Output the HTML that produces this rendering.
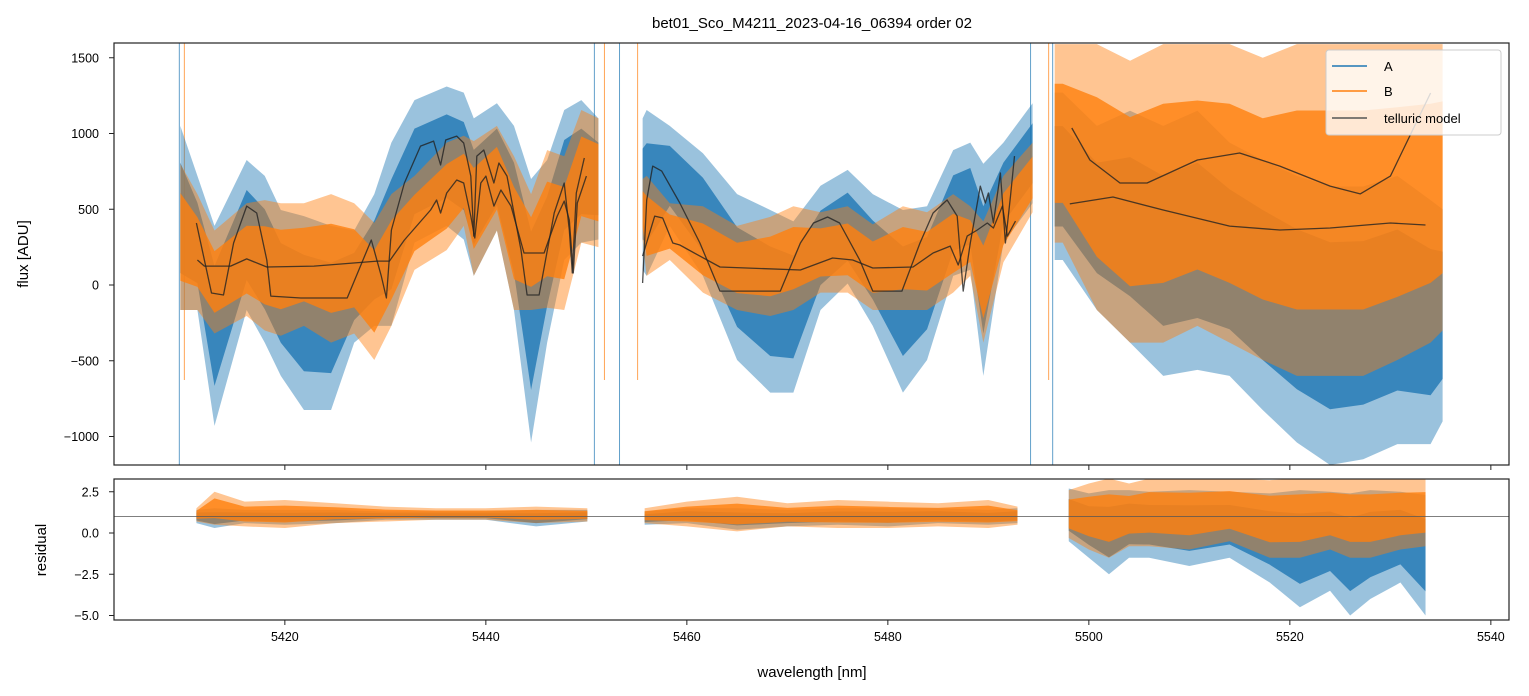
<!DOCTYPE html>
<html><head><meta charset="utf-8"><style>
body{margin:0;background:#fff;}
svg{display:block;font-family:"Liberation Sans","DejaVu Sans",sans-serif;}
</style></head><body>
<svg id="chart" width="1529" height="696" viewBox="0 0 1529 696" xmlns="http://www.w3.org/2000/svg">
<defs>
<clipPath id="clipTop"><rect x="114" y="43" width="1395" height="422"/></clipPath>
<clipPath id="clipBot"><rect x="114" y="479" width="1395" height="141"/></clipPath>
</defs>
<text x="812" y="28" text-anchor="middle" font-size="15" fill="#000">bet01_Sco_M4211_2023-04-16_06394  order 02</text>
<g id="topData" clip-path="url(#clipTop)"></g>
<g id="botData" clip-path="url(#clipBot)"></g>
<g id="axes"></g>
</svg>
<script>
const segA1_wl=[5409.6,5411.3,5413,5416.2,5418,5419.6,5421.9,5424.6,5426.9,5428.9,5430.6,5432.9,5436.1,5437.8,5438.8,5441.1,5442.8,5444.5,5446.1,5447.8,5449.5,5451.2];
const segA1_hi=[1050,720,390,825,720,495,455,390,360,600,940,1220,1310,1270,1100,1200,1050,700,825,1155,1220,1100];
const segA1_lo=[-165,-165,-930,-165,-380,-600,-825,-825,-380,-270,-270,280,390,300,60,360,-165,-1040,-380,165,280,300];
const segB1_hi=[800,600,360,540,560,540,540,600,540,410,600,720,940,985,950,1050,850,600,890,850,1155,1100];
const segB1_lo=[-165,-165,-320,-205,-300,-335,-270,-380,-320,-495,-270,100,230,390,60,360,-165,-165,-150,-165,280,250];
const segA2_wl=[5455.6,5456,5458.3,5461.6,5465,5468.3,5470.6,5473.3,5476,5478.5,5481.5,5483.9,5486.5,5488.2,5489.5,5491.5,5494.4];
const segA2_hi=[1100,1155,1050,870,600,495,420,655,760,600,495,520,890,940,800,940,1200];
const segA2_lo=[100,60,390,60,-495,-710,-710,-165,10,-270,-710,-495,60,100,-600,280,540];
const segB2_hi=[700,720,540,520,390,450,520,480,520,400,520,480,600,520,420,720,940];
const segB2_lo=[300,60,165,-50,-165,-205,-165,-50,-50,-165,-165,-165,-50,60,-380,150,480];
const segA3_wl=[5496.6,5497.4,5500.8,5504.1,5507.4,5510.8,5514,5517.3,5520.7,5524,5527.3,5530.7,5534,5535.2];
const segA3_hi=[1270,1270,1050,1150,1050,1150,940,825,720,650,650,720,560,500];
const segA3_lo=[165,165,-165,-380,-600,-560,-600,-825,-1040,-1188,-1150,-1050,-1050,-900];
const segB3_hi=[1590,1590,1590,1480,1590,1590,1590,1500,1590,1590,1590,1590,1590,1590];
const segB3_lo=[280,280,-165,-380,-380,-270,-380,-495,-600,-600,-600,-495,-380,-300];
const spikesA=[5409.5,5450.8,5453.3,5494.2,5496.4];
const spikesB=[5410.0,5451.8,5455.1,5496.0];
const tA1_wl=[5411.2,5412.7,5413.9,5414.9,5416.2,5417.2,5418.2,5418.6,5421.6,5426.2,5428.6,5429.6,5430.1,5430.6,5431.9,5433.5,5434.8,5435.5,5436.0,5437.1,5437.8,5438.5,5438.8,5439.1,5439.8,5440.8,5441.3,5442.1,5443.5,5444.1,5445.3,5446.8,5447.8,5448.3,5448.6,5449.0,5449.8];
const tA1_v=[409,-53,-66,277,521,475,165,-73,-86,-86,297,59,-86,363,673,917,950,792,957,983,937,719,323,851,891,673,805,719,231,-66,-66,475,673,363,79,607,838];
const tB1_wl=[5411.3,5412.0,5414.6,5416.2,5418.2,5422.9,5429.2,5430.4,5431.9,5434.5,5435.1,5435.5,5436.1,5437.1,5437.8,5438.5,5438.9,5439.5,5440.0,5440.8,5441.5,5442.5,5443.8,5445.8,5447.1,5447.8,5448.3,5448.7,5449.1,5450.0];
const tB1_v=[165,125,125,172,119,125,158,158,297,495,561,475,607,693,673,455,310,673,719,521,627,521,211,211,455,554,429,79,541,719];
const tA2_wl=[5455.6,5456.0,5456.6,5457.5,5459.3,5461.3,5463.3,5469.3,5471.3,5472.6,5474.0,5475.2,5477.2,5478.5,5481.4,5483.2,5484.5,5485.9,5486.9,5487.5,5488.2,5489.2,5489.7,5490.0,5490.5,5491.2,5491.7,5492.2,5492.6];
const tA2_v=[13,561,785,752,541,277,-40,-40,277,409,449,409,165,-40,-40,277,475,561,455,-40,277,653,541,607,409,739,277,587,851];
const tB2_wl=[5455.6,5456.8,5457.6,5458.6,5459.3,5461.3,5463.3,5471.3,5474.5,5476.5,5478.5,5482.5,5484.5,5486.2,5487.0,5487.9,5488.9,5489.9,5490.5,5491.4,5491.9,5492.7];
const tB2_v=[191,455,442,277,264,191,119,99,178,165,112,119,211,257,132,323,363,409,376,521,323,422];
const tA3_wl=[5498.3,5500.1,5503.1,5505.8,5510.8,5515.0,5519.0,5524.0,5527.0,5530.0,5532.7,5534.0];
const tA3_v=[1036,825,673,673,825,871,785,653,601,719,1089,1267];
const tB3_wl=[5498.1,5502.4,5507.4,5514.0,5519.0,5524.0,5530.0,5533.5];
const tB3_v=[535,581,495,389,363,376,409,396];
const r1_wl=[5411.2,5413,5416,5420,5425,5430,5435,5440,5445,5450.1];
const rA1_hi=[1.4,1.5,1.4,1.4,1.4,1.3,1.3,1.3,1.4,1.4];
const rA1_lo=[0.6,0.3,0.6,0.5,0.6,0.8,0.8,0.8,0.4,0.7];
const rB1_hi=[1.5,2.5,1.9,2.0,1.8,1.6,1.5,1.5,1.6,1.5];
const rB1_lo=[0.7,0.5,0.4,0.3,0.6,0.7,0.8,0.8,0.6,0.7];
const r2_wl=[5455.8,5460,5465,5470,5475,5480,5485,5490,5492.9];
const rA2_hi=[1.3,1.5,1.5,1.4,1.5,1.5,1.5,1.4,1.5];
const rA2_lo=[0.5,0.6,0.2,0.4,0.5,0.4,0.6,0.5,0.6];
const rB2_hi=[1.5,1.9,2.2,1.8,2.0,1.9,1.8,2.0,1.6];
const rB2_lo=[0.6,0.4,0.1,0.4,0.3,0.3,0.4,0.3,0.5];
const r3_wl=[5498,5500,5502,5504,5506,5510,5514,5518,5521,5524,5526,5528,5531,5533.5];
const rA3_hi=[2.7,2.4,2.6,2.6,2.5,2.6,2.5,2.4,2.6,2.5,2.4,2.6,2.5,2.3];
const rA3_lo=[-0.5,-1.5,-2.5,-1.5,-1.5,-2.0,-1.5,-3.0,-4.5,-3.5,-5.0,-4.0,-3.0,-5.0];
const rB3_hi=[2.6,3.0,3.3,3.0,3.3,3.3,3.3,3.2,3.3,3.3,3.3,3.3,3.3,3.3];
const rB3_lo=[-0.3,-1.0,-1.5,-0.8,-0.8,-1.0,-0.5,-1.5,-1.5,-1.0,-1.5,-1.5,-1.0,-0.8];
const xTicks=[5420,5440,5460,5480,5500,5520,5540];
const yTicksTop=[-1000,-500,0,500,1000,1500];
const yTicksBot=[-5.0,-2.5,0.0,2.5];
const yTickBotLabels=["\u22125.0","\u22122.5","0.0","2.5"];

const X=w=>114+(w-5403.0)*10.05;
const YT=v=>285-v*0.1515;
const YB=v=>533-v*16.5;
const NS="http://www.w3.org/2000/svg";
function mk(tag,attrs,parent){const e=document.createElementNS(NS,tag);for(const k in attrs)e.setAttribute(k,attrs[k]);parent.appendChild(e);return e;}
const topG=document.getElementById('topData'), botG=document.getElementById('botData'), axesG=document.getElementById('axes');

function band(wl,hi,lo,Y,color,op,parent,name,shrink){
  let pts=[];
  for(let i=0;i<wl.length;i++){const m=(hi[i]+lo[i])/2;pts.push(X(wl[i])+','+Y(m+(hi[i]-m)*shrink));}
  for(let i=wl.length-1;i>=0;i--){const m=(hi[i]+lo[i])/2;pts.push(X(wl[i])+','+Y(m+(lo[i]-m)*shrink));}
  const p=mk('polygon',{points:pts.join(' '),fill:color,'fill-opacity':op},parent);
  
  
}
function series(wl,hi,lo,Y,color,parent,name){
  band(wl,hi,lo,Y,color,0.45,parent,name+'-outer',1);
  band(wl,hi,lo,Y,color,0.8,parent,name+'-core',0.6);
}
function line(wl,v,Y,parent,name,color,w,op){
  const d=wl.map((q,i)=>(i?'L':'M')+X(q).toFixed(1)+','+Y(v[i]).toFixed(1)).join('');
  const p=mk('path',{d:d,fill:'none',stroke:color,'stroke-width':w,'stroke-opacity':op,'stroke-linejoin':'round'},parent);
  
  
}
const BLUE='#1f77b4', ORANGE='#ff7f0e';
spikesA.forEach(s=>{const l=mk('line',{x1:X(s),x2:X(s),y1:43,y2:465,stroke:BLUE,'stroke-width':1,'stroke-opacity':0.7},topG);
  
  });
spikesB.forEach(s=>{const l=mk('line',{x1:X(s),x2:X(s),y1:43,y2:380,stroke:ORANGE,'stroke-width':1,'stroke-opacity':0.7},topG);
  
  });
series(segA1_wl,segA1_hi,segA1_lo,YT,BLUE,topG,'flux-a-seg1');
series(segA2_wl,segA2_hi,segA2_lo,YT,BLUE,topG,'flux-a-seg2');
series(segA3_wl,segA3_hi,segA3_lo,YT,BLUE,topG,'flux-a-seg3');
series(segA1_wl,segB1_hi,segB1_lo,YT,ORANGE,topG,'flux-b-seg1');
series(segA2_wl,segB2_hi,segB2_lo,YT,ORANGE,topG,'flux-b-seg2');
series(segA3_wl,segB3_hi,segB3_lo,YT,ORANGE,topG,'flux-b-seg3');
[[tA1_wl,tA1_v],[tB1_wl,tB1_v],[tA2_wl,tA2_v],[tB2_wl,tB2_v],[tA3_wl,tA3_v],[tB3_wl,tB3_v]].forEach(a=>line(a[0],a[1],YT,topG,'telluric-model','#222',1.3,0.8));
series(r1_wl,rA1_hi,rA1_lo,YB,BLUE,botG,'resid-a-seg1');
series(r2_wl,rA2_hi,rA2_lo,YB,BLUE,botG,'resid-a-seg2');
series(r3_wl,rA3_hi,rA3_lo,YB,BLUE,botG,'resid-a-seg3');
series(r1_wl,rB1_hi,rB1_lo,YB,ORANGE,botG,'resid-b-seg1');
series(r2_wl,rB2_hi,rB2_lo,YB,ORANGE,botG,'resid-b-seg2');
series(r3_wl,rB3_hi,rB3_lo,YB,ORANGE,botG,'resid-b-seg3');
const ref=mk('line',{x1:114,x2:1509,y1:YB(1),y2:YB(1),stroke:'#555','stroke-width':0.8},botG);



[[43,422,'flux-axes-frame'],[479,141,'residual-axes-frame']].forEach(f=>{const r=mk('rect',{x:114,y:f[0],width:1395,height:f[1],fill:'none',stroke:'#222','stroke-width':1.2},axesG);
  
  });
xTicks.forEach(t=>{
  const x=X(t);
  const a=mk('line',{x1:x,x2:x,y1:465,y2:470,stroke:'#222'},axesG);
  
  
  const b=mk('line',{x1:x,x2:x,y1:620,y2:625,stroke:'#222'},axesG);
  
  
  const tx=mk('text',{x:x,y:641,'text-anchor':'middle','font-size':12.5},axesG);tx.textContent=t;
  
  
});
yTicksTop.forEach(t=>{
  const y=YT(t);
  const a=mk('line',{x1:109,x2:114,y1:y,y2:y,stroke:'#222'},axesG);
  
  
  const tx=mk('text',{x:99,y:y+4.5,'text-anchor':'end','font-size':12.5},axesG);tx.textContent=String(t).replace('-','\u2212');
  
  
});
yTicksBot.forEach((t,i)=>{
  const y=YB(t);
  const a=mk('line',{x1:109,x2:114,y1:y,y2:y,stroke:'#222'},axesG);
  
  
  const tx=mk('text',{x:99,y:y+4.5,'text-anchor':'end','font-size':12.5},axesG);tx.textContent=yTickBotLabels[i];
  
  
});
</script>
<script>
const ax=document.getElementById('axes');
function T(x,y,s,txt,name,rot,anchor){const e=document.createElementNS("http://www.w3.org/2000/svg",'text');e.setAttribute('x',x);e.setAttribute('y',y);e.setAttribute('font-size',s);e.setAttribute('text-anchor',anchor||'middle');if(rot)e.setAttribute('transform','rotate(-90 '+x+' '+y+')');e.textContent=txt;ax.appendChild(e);
  
  return e;}
T(812,677,15,'wavelength [nm]','x-axis-title');
T(28,254,15,'flux [ADU]','y-axis-title',true);
T(46,550,15,'residual','residual-y-axis-title',true);
const NS2="http://www.w3.org/2000/svg";
const lg=document.createElementNS(NS2,'g');ax.appendChild(lg);


const box=document.createElementNS(NS2,'rect');
[['x',1326],['y',50],['width',175],['height',85],['rx',3],['fill','#fff'],['fill-opacity',0.8],['stroke','#ccc']].forEach(a=>box.setAttribute(a[0],a[1]));lg.appendChild(box);


[['A','#1f77b4',66,'legend-entry-a'],['B','#ff7f0e',91,'legend-entry-b'],['telluric model','#555',118,'legend-entry-telluric']].forEach(e=>{
  const l=document.createElementNS(NS2,'line');[['x1',1332],['x2',1367],['y1',e[2]],['y2',e[2]],['stroke',e[1]],['stroke-width',1.6]].forEach(a=>l.setAttribute(a[0],a[1]));lg.appendChild(l);
  
  
  const t=document.createElementNS(NS2,'text');[['x',1384],['y',e[2]+5],['font-size',13]].forEach(a=>t.setAttribute(a[0],a[1]));t.textContent=e[0];lg.appendChild(t);
  
  
});
</script>
</body></html>
